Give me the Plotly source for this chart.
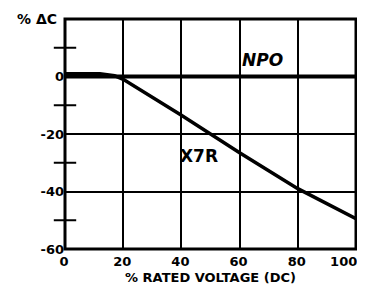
import plotly.graph_objects as go

npo_x = [0, 100]
npo_y = [0, 0]
x7r_x = [0, 12, 17, 20, 40, 60, 80, 100]
x7r_y = [1, 1, 0.3, -1, -13.5, -26.5, -39, -49.5]
x_ticks = [0, 20, 40, 60, 80, 100]
x_tick_labels = ["0", "20", "40", "60", "80", "100"]
y_ticks = [0, -20, -40, -60]
minor_y = [10, -10, -30, -50]

fam = "DejaVu Sans"
font = dict(family=fam, size=13, color="black", weight="bold")

# keep the last x label inside the visible page edge
x_text = [f"<b>{t}</b>" for t in x_tick_labels]
x_text[-1] = x_text[-1] + "&nbsp;" * 5

fig = go.Figure()
fig.add_trace(go.Scatter(x=npo_x, y=npo_y, mode="lines",
                         line=dict(color="black", width=4), showlegend=False))
fig.add_trace(go.Scatter(x=x7r_x, y=x7r_y, mode="lines",
                         line=dict(color="black", width=3.5), showlegend=False))
fig.add_trace(go.Scatter(x=[0]*len(minor_y), y=minor_y, mode="markers",
                         marker=dict(symbol="line-ew", size=16,
                                     line=dict(color="black", width=2)),
                         cliponaxis=False, showlegend=False))

fig.add_annotation(x=68, y=5.6, text="<b><i>NPO</i></b>", showarrow=False,
                   font=dict(family=fam, size=17, color="black"))
fig.add_annotation(x=46, y=-27.5, text="<b>X7R</b>", showarrow=False,
                   font=dict(family=fam, size=17, color="black"))
fig.add_annotation(xref="paper", yref="paper", x=-0.02, y=1.0, xanchor="right",
                   yanchor="middle", text="<b>% ΔC</b>", showarrow=False,
                   font=dict(family=fam, size=14, color="black"))

fig.add_shape(type="rect", xref="paper", yref="paper", x0=0, x1=1, y0=0, y1=1,
              line=dict(color="black", width=3), layer="above")

fig.update_layout(
    width=357, height=277,
    margin=dict(l=57, r=9, t=11, b=36, autoexpand=False),
    paper_bgcolor="white", plot_bgcolor="white",
    font=font,
    xaxis=dict(range=[0, 100], tickvals=x_ticks, ticktext=x_text,
               showgrid=True, gridcolor="black", gridwidth=1.5,
               showline=False, zeroline=False, ticks="", ticklen=0, automargin=False,
               ticklabeloverflow="allow", ticklabelshift=-1, ticklabelstandoff=3,
               title=dict(text="<b>% RATED VOLTAGE (DC)</b>",
                          font=dict(family=fam, size=13, color="black"), standoff=6)),
    yaxis=dict(range=[-60, 20], tickvals=y_ticks, ticktext=[f"<b>{v}</b>" for v in y_ticks],
               showgrid=True, gridcolor="black", gridwidth=1.5,
               showline=False, zeroline=False, ticks="", ticklen=0, automargin=False,
               ticklabeloverflow="allow"),
)

fig.write_html("out.html")
